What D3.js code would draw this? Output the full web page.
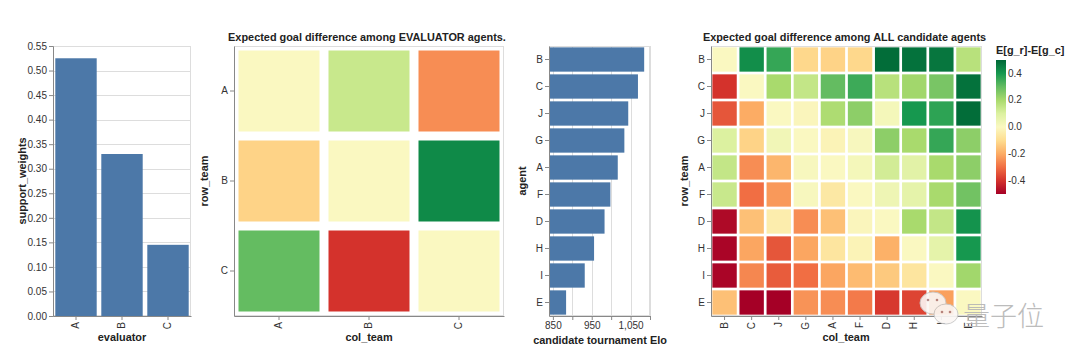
<!DOCTYPE html>
<html>
<head>
<meta charset="utf-8">
<script src="https://cdn.jsdelivr.net/npm/d3@7"></script>
<style>
body { margin: 0; background: #fff; }
svg text { font-family: "Liberation Sans", Arial, Helvetica, sans-serif; }
</style>
</head>
<body>
<div id="chart"></div>
<script>
// ---- data ----
var evaluators = ["A", "B", "C"];
var supportWeights = [0.525, 0.33, 0.145];
var weightTicks = [0, 0.05, 0.10, 0.15, 0.20, 0.25, 0.30, 0.35, 0.40, 0.45, 0.50, 0.55];

// goal difference among evaluator agents (row_team x col_team)
var evalGoalDiff = [
    [0.00, 0.14, -0.25],
    [-0.12, 0.00, 0.43],
    [0.30, -0.40, 0.00]
];

var agents = ["B", "C", "J", "G", "A", "F", "D", "H", "I", "E"];
var eloValues = [1085, 1069, 1044, 1034, 1017, 998, 983, 956, 932, 884];
var eloTicks = [850, 900, 950, 1000, 1050, 1100];
var eloLabelTicks = [850, 950, 1050];

// goal difference among all candidates, rows and cols in `agents` order
var goalDiff = [
    [0.00, 0.42, 0.36, -0.11, -0.12, -0.11, 0.49, 0.48, 0.47, 0.17],
    [-0.40, 0.00, 0.20, 0.15, 0.30, 0.35, 0.17, 0.21, 0.27, 0.48],
    [-0.34, -0.20, 0.00, -0.01, 0.19, 0.24, 0.02, 0.40, 0.37, 0.49],
    [0.10, -0.12, 0.03, 0.00, -0.02, 0.01, 0.24, 0.20, 0.36, 0.24],
    [0.15, -0.25, -0.18, 0.01, 0.00, 0.02, 0.12, 0.08, 0.20, 0.24],
    [0.14, -0.30, -0.23, 0.01, -0.06, 0.00, 0.04, 0.07, 0.20, 0.28],
    [-0.48, -0.16, -0.04, -0.25, -0.16, -0.01, 0.00, 0.20, 0.15, 0.41],
    [-0.49, -0.21, -0.34, -0.21, -0.07, -0.02, -0.19, 0.00, 0.07, 0.40],
    [-0.49, -0.26, -0.33, -0.30, -0.21, -0.17, -0.14, -0.07, 0.00, 0.21],
    [-0.16, -0.50, -0.50, -0.24, -0.25, -0.28, -0.39, -0.37, -0.22, 0.00]
];
var legendTicks = [0.4, 0.2, 0.0, -0.2, -0.4];
var legendLabels = ["0.4", "0.2", "0.0", "-0.2", "-0.4"];

// red-yellow-green scheme stops (vega style)
var rdylgn = ["#a50026", "#d4322c", "#f16e43", "#fcac64", "#fedd90", "#faf8c1",
              "#dcf1a0", "#a9da6d", "#64bc61", "#16984f", "#006837"];

// ---- layout ----
var W = 1080, H = 362;
var TOP = 46, BOTTOM = 316;
var BAR = "#4c78a8", GRID = "#dddddd", AXIS = "#888888";
var LABEL_SIZE = "10px", TITLE_SIZE = "10.9px";

var svg = d3.select("#chart").append("svg")
    .attr("width", W)
    .attr("height", H)
    .style("background-color", "white");

var color = d3.scaleSequential(d3.piecewise(d3.interpolateRgb, rdylgn)).domain([-0.5, 0.5]);

/** Light frame around a plot area. */
function viewBox(x0, x1){
    svg.append("rect")
        .attr("x", x0 + 0.5).attr("y", TOP + 0.5)
        .attr("width", x1 - x0 - 1).attr("height", BOTTOM - TOP - 1)
        .attr("fill", "none")
        .attr("stroke", GRID);
}

/** Styles an axis group the vega way. */
function styleAxis(g){
    g.select(".domain").attr("stroke", AXIS);
    g.selectAll(".tick line").attr("stroke", AXIS);
    g.selectAll(".tick text")
        .attr("fill", "#333")
        .style("font-size", LABEL_SIZE);
}

/** Rotates band labels on a bottom axis. */
function rotateLabels(g){
    g.selectAll(".tick text")
        .attr("transform", "rotate(-90)")
        .attr("x", -6)
        .attr("y", 0)
        .attr("dy", "0.32em")
        .style("text-anchor", "end");
}

function axisTitle(t, x, y, rotate){
    var txt = svg.append("text")
        .attr("text-anchor", "middle")
        .attr("fill", "#222")
        .style("font-size", TITLE_SIZE)
        .style("font-weight", "bold")
        .text(t);
    if (rotate){
        txt.attr("transform", "translate(" + x + "," + y + ") rotate(-90)");
    }
    else {
        txt.attr("x", x).attr("y", y);
    }
    return txt;
}

// ---- panel 1: support weights ----
(function(){
    var x = d3.scaleBand().domain(evaluators).range([53, 191]).paddingInner(0.1).paddingOuter(0.05);
    var y = d3.scaleLinear().domain([0, 0.55]).range([BOTTOM, TOP]);
    viewBox(53, 191);
    svg.append("g").selectAll("line").data(weightTicks).enter().append("line")
        .attr("x1", 53).attr("x2", 191)
        .attr("y1", function(d){ return Math.round(y(d)) + 0.5; })
        .attr("y2", function(d){ return Math.round(y(d)) + 0.5; })
        .attr("stroke", GRID);
    svg.append("g").selectAll("rect").data(evaluators).enter().append("rect")
        .attr("x", function(d){ return x(d); })
        .attr("width", x.bandwidth())
        .attr("y", function(d, i){ return y(supportWeights[i]); })
        .attr("height", function(d, i){ return BOTTOM - y(supportWeights[i]); })
        .attr("fill", BAR);
    var gy = svg.append("g").attr("transform", "translate(53,0)")
        .call(d3.axisLeft(y).tickValues(weightTicks).tickFormat(d3.format(".2f")).tickSize(4).tickPadding(2));
    styleAxis(gy);
    var gx = svg.append("g").attr("transform", "translate(0," + BOTTOM + ")")
        .call(d3.axisBottom(x).tickSize(4).tickSizeOuter(0));
    styleAxis(gx);
    rotateLabels(gx);
    axisTitle("support_weights", 26, 181, true);
    axisTitle("evaluator", 122, 341, false);
})();

/** Draws a heatmap of a square matrix. */
function heatmap(names, matrix, x0, x1, title){
    var x = d3.scaleBand().domain(names).range([x0, x1]).paddingInner(0.1).paddingOuter(0.05);
    var y = d3.scaleBand().domain(names).range([TOP, BOTTOM]).paddingInner(0.1).paddingOuter(0.05);
    viewBox(x0, x1);
    var cells = [];
    matrix.forEach(function(row, r){
        row.forEach(function(v, c){
            cells.push({row: names[r], col: names[c], v: v});
        });
    });
    svg.append("g").selectAll("rect").data(cells).enter().append("rect")
        .attr("x", function(d){ return x(d.col); })
        .attr("y", function(d){ return y(d.row); })
        .attr("width", x.bandwidth())
        .attr("height", y.bandwidth())
        .attr("fill", function(d){ return color(d.v); });
    var gy = svg.append("g").attr("transform", "translate(" + x0 + ",0)")
        .call(d3.axisLeft(y).tickSize(4).tickPadding(2).tickSizeOuter(0));
    styleAxis(gy);
    var gx = svg.append("g").attr("transform", "translate(0," + BOTTOM + ")")
        .call(d3.axisBottom(x).tickSize(4).tickSizeOuter(0));
    styleAxis(gx);
    rotateLabels(gx);
    svg.append("text")
        .attr("x", (x0 + x1) / 2 - 2)
        .attr("y", 40.5)
        .attr("text-anchor", "middle")
        .attr("fill", "#222")
        .style("font-size", TITLE_SIZE)
        .style("font-weight", "bold")
        .text(title);
}

// ---- panel 2: evaluator heatmap ----
heatmap(evaluators, evalGoalDiff, 234, 504, "Expected goal difference among EVALUATOR agents.");
axisTitle("row_team", 208, 181, true);
axisTitle("col_team", 369, 341, false);

// ---- panel 3: candidate Elo ----
(function(){
    var x = d3.scaleLinear().domain([840, 1100]).range([549, 650]);
    var y = d3.scaleBand().domain(agents).range([TOP, BOTTOM]).paddingInner(0.1).paddingOuter(0.05);
    viewBox(549, 650);
    svg.append("g").selectAll("line").data(eloTicks).enter().append("line")
        .attr("x1", function(d){ return Math.round(x(d)) + 0.5; })
        .attr("x2", function(d){ return Math.round(x(d)) + 0.5; })
        .attr("y1", TOP).attr("y2", BOTTOM)
        .attr("stroke", GRID);
    svg.append("g").selectAll("rect").data(agents).enter().append("rect")
        .attr("x", x(840))
        .attr("y", function(d){ return y(d); })
        .attr("height", y.bandwidth())
        .attr("width", function(d, i){ return x(eloValues[i]) - x(840); })
        .attr("fill", BAR);
    var gy = svg.append("g").attr("transform", "translate(549,0)")
        .call(d3.axisLeft(y).tickSize(4).tickPadding(2).tickSizeOuter(0));
    styleAxis(gy);
    var gx = svg.append("g").attr("transform", "translate(0," + BOTTOM + ")")
        .call(d3.axisBottom(x).tickValues(eloTicks).tickSize(4).tickPadding(2).tickSizeOuter(0)
            .tickFormat(function(d){ return eloLabelTicks.indexOf(d) >= 0 ? d3.format(",")(d) : ""; }));
    styleAxis(gx);
    axisTitle("agent", 525.5, 181, true);
    axisTitle("candidate tournament Elo", 600, 343.5, false);
})();

// ---- panel 4: all candidates heatmap ----
heatmap(agents, goalDiff, 711, 982, "Expected goal difference among ALL candidate agents");
axisTitle("row_team", 688, 181, true);
axisTitle("col_team", 846, 341, false);

// ---- colour legend ----
(function(){
    var ly = d3.scaleLinear().domain([-0.5, 0.5]).range([194, 60]);
    var grad = svg.append("defs").append("linearGradient")
        .attr("id", "legendGrad")
        .attr("x1", 0).attr("y1", 1).attr("x2", 0).attr("y2", 0);
    rdylgn.forEach(function(c, i){
        grad.append("stop").attr("offset", (i / (rdylgn.length - 1))).attr("stop-color", c);
    });
    svg.append("rect")
        .attr("x", 996).attr("y", 60)
        .attr("width", 10).attr("height", 134)
        .attr("fill", "url(#legendGrad)");
    svg.append("g").selectAll("text").data(legendTicks).enter().append("text")
        .attr("x", 1008)
        .attr("y", function(d){ return ly(d); })
        .attr("dy", "0.32em")
        .attr("fill", "#333")
        .style("font-size", LABEL_SIZE)
        .text(function(d, i){ return legendLabels[i]; });
    svg.append("text")
        .attr("x", 996).attr("y", 54)
        .attr("fill", "#222")
        .style("font-size", TITLE_SIZE)
        .style("font-weight", "bold")
        .text("E[g_r]-E[g_c]");
})();

// ---- watermark ----
(function(){
    var wm = svg.append("g").attr("opacity", 0.9);
    wm.append("ellipse").attr("cx", 933).attr("cy", 303).attr("rx", 13).attr("ry", 11)
        .attr("fill", "#fbf7f5").attr("stroke", "#c8c8c8");
    wm.append("ellipse").attr("cx", 946).attr("cy", 314).attr("rx", 12).attr("ry", 10)
        .attr("fill", "#fbf7f5").attr("stroke", "#c8c8c8");
    [[928, 300], [937, 300], [942, 312], [950, 312]].forEach(function(p){
        wm.append("circle").attr("cx", p[0]).attr("cy", p[1]).attr("r", 1.3).attr("fill", "#b08080");
    });
    wm.append("text")
        .attr("x", 963).attr("y", 326)
        .attr("fill", "#b5b5b5")
        .style("font-family", "'Noto Sans CJK SC', sans-serif")
        .style("font-size", "27px")
        .style("font-weight", "300")
        .text("量子位");
})();
</script>
</body>
</html>
